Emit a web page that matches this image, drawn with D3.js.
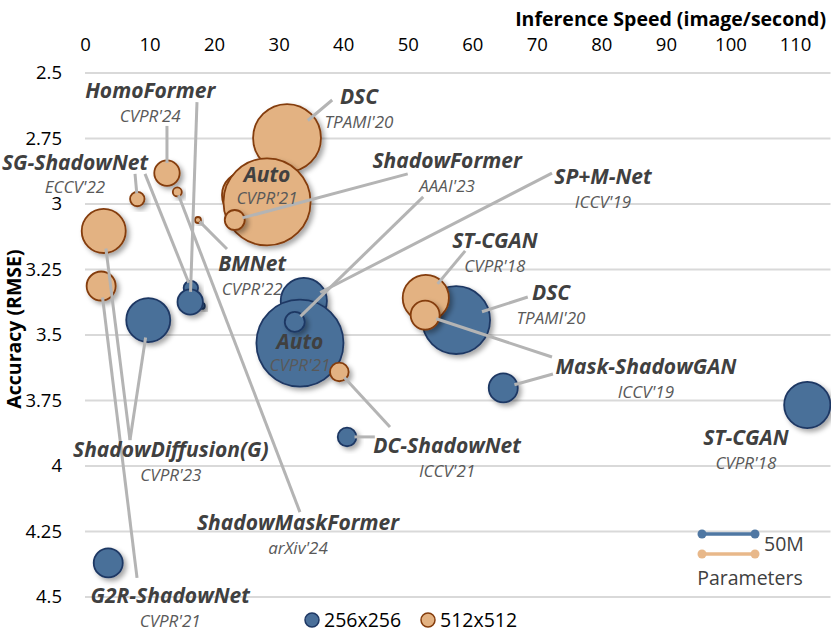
<!DOCTYPE html>
<html>
<head>
<meta charset="utf-8">
<script src="https://cdn.jsdelivr.net/npm/d3@7"></script>
<style>
body { margin: 0; background: #fff; }
text { font-family: "Open Sans", Lato, sans-serif; }
</style>
</head>
<body>
<svg width="831" height="644"></svg>
<script>
// data
const methods = ['SP+M-Net', 'DSC', 'Auto', 'ShadowFormer', 'ST-CGAN', 'Mask-ShadowGAN', 'DC-ShadowNet',
    'ShadowDiffusion(G)', 'G2R-ShadowNet', 'SG-ShadowNet', 'BMNet', 'HomoFormer', 'ShadowMaskFormer'];
const venues = ["ICCV'19", "TPAMI'20", "CVPR'21", "AAAI'23", "CVPR'18", "ICCV'19", "ICCV'21",
    "CVPR'23", "CVPR'21", "ECCV'22", "CVPR'22", "CVPR'24", "arXiv'24"];
const params = [38, 82, 135, 7.1, 38, 15, 6.2, 34.5, 15, 3.7, 0.64, 11.5, 1.44]; // M
const speed256 = [33.9, 57.5, 33.3, 32.5, 111.9, 64.8, 40.6, 9.8, 3.6, 16.4, 18.1, 16.3, null];
const rmse256 = [3.370, 3.443, 3.531, 3.450, 3.767, 3.702, 3.889, 3.443, 4.370, 3.321, 3.389, 3.374, null];
const speed512 = [24.8, 31.3, 28.2, 23.2, 52.8, 52.7, 39.4, 2.9, 2.5, 8.1, 17.5, 12.7, 14.3];
const rmse512 = [2.966, 2.748, 2.992, 3.061, 3.359, 3.424, 3.641, 3.103, 3.313, 2.981, 3.061, 2.882, 2.954];
const xTicks = [0, 10, 20, 30, 40, 50, 60, 70, 80, 90, 100, 110];
const yTicks = [2.5, 2.75, 3, 3.25, 3.5, 3.75, 4, 4.25, 4.5];
const resolutions = ['256x256', '512x512'];

// annotations (label anchor in data units)
const labelIdx = [11, 1, 9, 2, 3, 0, 10, 4, 1, 2, 5, 4, 6, 7, 12, 8];
const labelX = [10.1, 42.45, -1.55, 28.2, 56.1, 80.25, 25.9, 63.5, 72.2, 33.3, 86.9, 102.4, 56.1, 13.3, 33.0, 13.2];
const labelY = [2.595, 2.618, 2.870, 2.916, 2.863, 2.924, 3.256, 3.168, 3.366, 3.553, 3.649, 3.920, 3.950, 3.966, 4.244, 4.523];

// leader lines: method, resolution, end point
const leaderIdx = [11, 11, 1, 9, 9, 12, 10, 3, 3, 0, 7, 7, 8, 6, 6, 4, 1, 5, 5];
const leaderRes = [512, 256, 512, 512, 256, 512, 512, 512, 256, 256, 512, 256, 512, 512, 256, 512, 256, 512, 256];
const leaderX = [12.7, 17.35, 38.3, 7.75, 9.3, 33.3, 22.0, 50.0, 52.4, 72.35, 6.97, 6.97, 8.06, 47.25, 44.9, 58.9, 68.6, 72.35, 72.5];
const leaderY = [2.702, 2.611, 2.603, 2.885, 2.885, 4.176, 3.172, 2.885, 2.973, 2.882, 3.901, 3.901, 4.427, 3.851, 3.889, 3.179, 3.355, 3.584, 3.649];

const svg = d3.select('svg');

const blue = { fill: '#4a6f99', stroke: '#1f3864' };
const orange = { fill: '#e3b282', stroke: '#843c0c' };

const x = d3.scaleLinear().domain([0, 115.5]).range([85, 830.5]);
const y = d3.scaleLinear().domain([2.5, 4.5]).range([73, 597]);
const r = d3.scaleSqrt().domain([0, 50]).range([0, 26.5]);

// shadow
const defs = svg.append('defs');
defs.append('filter').attr('id', 'shadow')
    .attr('x', '-30%').attr('y', '-30%').attr('width', '170%').attr('height', '170%')
    .append('feDropShadow')
    .attr('dx', 3).attr('dy', 3).attr('stdDeviation', 2.5)
    .attr('flood-color', '#000').attr('flood-opacity', 0.35);

// gridlines
svg.append('g')
    .selectAll('line').data(yTicks).join('line')
    .attr('x1', x(0)).attr('x2', x(115.5))
    .attr('y1', d => y(d)).attr('y2', d => y(d))
    .attr('stroke', '#d9d9d9').attr('stroke-width', 2);

// x axis on top
const xAxis = svg.append('g')
    .attr('transform', 'translate(0,51)')
    .call(d3.axisTop(x).tickValues(xTicks).tickSize(0).tickPadding(0));
xAxis.select('.domain').remove();
xAxis.selectAll('text').attr('font-size', 18.5).attr('fill', '#000').attr('font-family', '"Open Sans"');

svg.append('text')
    .attr('x', 826).attr('y', 26)
    .attr('text-anchor', 'end')
    .attr('font-size', 19.5).attr('font-weight', 'bold')
    .text('Inference Speed (image/second)');

// y axis
const yAxis = svg.append('g')
    .attr('transform', 'translate(64,0)')
    .call(d3.axisLeft(y).tickValues(yTicks).tickSize(0).tickPadding(2).tickFormat(d3.format('')));
yAxis.select('.domain').remove();
yAxis.selectAll('text').attr('font-size', 18.5).attr('fill', '#000').attr('font-family', '"Open Sans"');

svg.append('text')
    .attr('transform', 'translate(21,329) rotate(-90)')
    .attr('text-anchor', 'middle')
    .attr('font-size', 19.5).attr('font-weight', 'bold')
    .text('Accuracy (RMSE)');

// bubbles
const pts256 = methods.map((m, i) => ({ i, sx: speed256[i], ac: rmse256[i], p: params[i] })).filter(d => d.sx != null);
const pts512 = methods.map((m, i) => ({ i, sx: speed512[i], ac: rmse512[i], p: params[i] }));

const bub = svg.append('g');
bub.selectAll('.b256').data(pts256).join('circle')
    .attr('cx', d => x(d.sx)).attr('cy', d => y(d.ac)).attr('r', d => r(d.p))
    .attr('fill', blue.fill).attr('stroke', blue.stroke).attr('stroke-width', 1.8)
    .attr('filter', 'url(#shadow)');
bub.selectAll('.b512').data(pts512).join('circle')
    .attr('cx', d => x(d.sx)).attr('cy', d => y(d.ac)).attr('r', d => r(d.p))
    .attr('fill', orange.fill).attr('stroke', orange.stroke).attr('stroke-width', 1.8)
    .attr('filter', 'url(#shadow)');

// leader lines
const leaders = leaderIdx.map((m, k) => {
    const sx = leaderRes[k] === 256 ? speed256[m] : speed512[m];
    const ac = leaderRes[k] === 256 ? rmse256[m] : rmse512[m];
    const cx = x(sx), cy = y(ac), rr = r(params[m]);
    const ex = x(leaderX[k]), ey = y(leaderY[k]);
    const len = Math.hypot(ex - cx, ey - cy);
    const f = 0.8 * rr / len;
    return { x1: cx + (ex - cx) * f, y1: cy + (ey - cy) * f, x2: ex, y2: ey };
});
svg.append('g').selectAll('line').data(leaders).join('line')
    .attr('x1', d => d.x1).attr('y1', d => d.y1)
    .attr('x2', d => d.x2).attr('y2', d => d.y2)
    .attr('stroke', '#b4b4b4').attr('stroke-width', 3);

// labels
const lab = svg.append('g');
labelIdx.forEach((m, k) => {
    const lx = x(labelX[k]), ly = y(labelY[k]);
    lab.append('text')
        .attr('x', lx).attr('y', ly)
        .attr('text-anchor', 'middle')
        .attr('font-size', 21).attr('font-weight', 'bold').attr('font-style', 'italic')
        .attr('fill', '#404040')
        .text(methods[m]);
    lab.append('text')
        .attr('x', lx).attr('y', ly + (m === 2 ? 22 : (m === 9 ? 23 : 24)))
        .attr('text-anchor', 'middle')
        .attr('font-size', 17).attr('font-style', 'italic')
        .attr('fill', '#595959')
        .text(venues[m]);
});

// resolution legend
const leg = svg.append('g');
[blue, orange].forEach((c, k) => {
    const lx = 312 + k * 116;
    leg.append('circle').attr('cx', lx).attr('cy', 620).attr('r', 7)
        .attr('fill', c.fill).attr('stroke', c.stroke).attr('stroke-width', 1.5);
    leg.append('text').attr('x', lx + 12).attr('y', 627)
        .attr('font-size', 19.5).attr('fill', '#000')
        .text(resolutions[k]);
});

// parameter legend
const d50 = 2 * r(50);
[['#4f77a3', 534], ['#e8b88a', 554]].forEach(([col, ly]) => {
    leg.append('line').attr('x1', 702).attr('x2', 702 + d50).attr('y1', ly).attr('y2', ly)
        .attr('stroke', col).attr('stroke-width', 3.5);
    [702, 702 + d50].forEach(px => leg.append('circle').attr('cx', px).attr('cy', ly).attr('r', 4.5).attr('fill', col));
});
leg.append('text').attr('x', 764).attr('y', 551).attr('font-size', 19.5).attr('fill', '#404040').text('50M');
leg.append('text').attr('x', 750).attr('y', 585).attr('text-anchor', 'middle')
    .attr('font-size', 19.5).attr('fill', '#404040').text('Parameters');
</script>
</body>
</html>
